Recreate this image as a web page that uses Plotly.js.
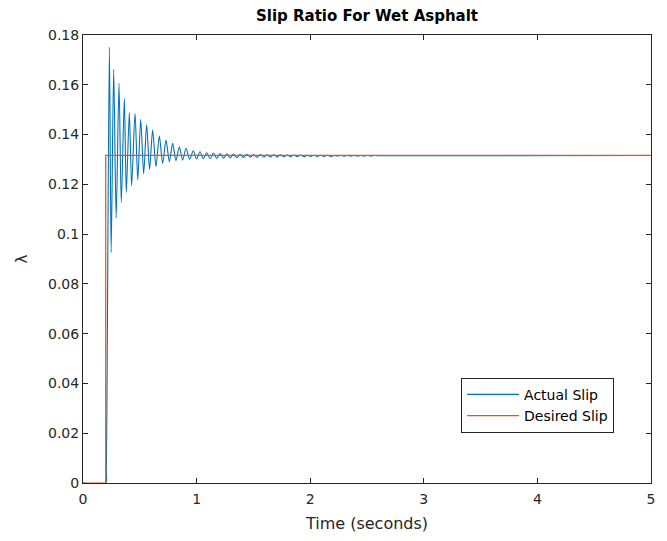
<!DOCTYPE html>
<html>
<head>
<meta charset="utf-8">
<script src="https://cdn.plot.ly/plotly-3.0.1.min.js"></script>
<style>html,body{margin:0;padding:0;background:#fff;}#chart{width:667px;height:541px;}</style>
</head>
<body>
<div id="chart"></div>
<script>
// Time (s) and slip values
const actualTime = [0, 0.2, 0.205, 0.232, 0.248, 0.270, 0.292, 0.317, 0.337, 0.364, 0.381, 0.408, 0.428, 0.458, 0.482, 0.508, 0.534, 0.560, 0.586, 0.613, 0.642, 0.672, 0.701, 0.731, 0.760, 0.789, 0.818, 0.848, 0.877, 0.907, 0.939, 0.971, 1.000, 1.030, 1.060, 1.089,
  1.119, 1.148, 1.178, 1.207, 1.237, 1.266, 1.296, 1.325, 1.355, 1.384, 1.414, 1.443, 1.473, 1.502, 1.532, 1.561, 1.591, 1.620, 1.650, 1.679, 1.709, 1.738, 1.768, 1.797, 1.827, 1.856, 1.886, 1.915, 1.945, 1.974,
  2.004, 2.033, 2.063, 2.092, 2.122, 2.151, 2.181, 2.210, 2.240, 2.269, 2.299, 2.328, 2.358, 2.387, 2.417, 2.446, 2.476, 2.505, 2.535, 2.564, 2.594, 5.0];
const actualSlip = [0, 0, 0.005, 0.1751, 0.0926, 0.1662, 0.1064, 0.1606, 0.1127, 0.1546, 0.1167, 0.1488, 0.1194, 0.1485, 0.1218, 0.1461, 0.1242, 0.1439, 0.1260, 0.1418, 0.1271, 0.1394, 0.1284, 0.1378, 0.1291, 0.1365, 0.1295, 0.1351, 0.1298, 0.1345, 0.1301, 0.1335, 0.1302, 0.1331, 0.1303, 0.1327,
  0.1303, 0.1326, 0.1304, 0.1324, 0.1305, 0.1323, 0.1306, 0.1322, 0.1307, 0.1321, 0.1308, 0.1321, 0.1309, 0.1320, 0.1309, 0.1320, 0.1310, 0.1319, 0.1310, 0.1319, 0.1310, 0.1319, 0.1311, 0.1318, 0.1311, 0.1318, 0.1311, 0.1318, 0.1311, 0.1317,
  0.1312, 0.1317, 0.1312, 0.1317, 0.1312, 0.1317, 0.1312, 0.1316, 0.1313, 0.1316, 0.1313, 0.1316, 0.1313, 0.1316, 0.1313, 0.1316, 0.1313, 0.1316, 0.1313, 0.1316, 0.1315, 0.1316];
const desiredTime = [0, 0.2, 0.2, 5.0];
const desiredSlip = [0, 0, 0.1316, 0.1316];

const xTickVals = [0, 1, 2, 3, 4, 5];
const xTickText = ['0', '1', '2', '3', '4', '5'];
const yTickVals = [0, 0.02, 0.04, 0.06, 0.08, 0.1, 0.12, 0.14, 0.16, 0.18];
const yTickText = ['0', '0.02', '0.04', '0.06', '0.08', '0.1', '0.12', '0.14', '0.16', '0.18'];

const FONT = 'DejaVu Sans, sans-serif';
const INK = '#262626';

const traces = [
  {x: actualTime, y: actualSlip, type: 'scatter', mode: 'lines', name: 'Actual Slip',
   line: {color: '#0072BD', width: 1.1, shape: 'spline', smoothing: 0.8}},
  {x: desiredTime, y: desiredSlip, type: 'scatter', mode: 'lines', name: 'Desired Slip',
   line: {color: '#E0561A', width: 1.2}}
];

const axisCommon = {
  showgrid: false, zeroline: false, showline: true, linecolor: INK, linewidth: 1,
  mirror: 'ticks', ticks: 'inside', ticklen: 5, tickcolor: INK, tickwidth: 1,
  tickfont: {family: FONT, size: 14, color: INK}
};

const layout = {
  width: 667, height: 541,
  margin: {l: 83, r: 16, t: 35, b: 58},
  paper_bgcolor: '#ffffff', plot_bgcolor: '#ffffff',
  font: {family: FONT, color: INK},
  title: {text: '<b>Slip Ratio For Wet Asphalt</b>', font: {family: FONT, size: 15, color: '#000'},
          x: 0.5, xref: 'paper', y: 0.970, yref: 'container', yanchor: 'middle'},
  xaxis: Object.assign({}, axisCommon, {range: [0, 5], tickmode: 'array', tickvals: xTickVals, ticktext: xTickText,
    ticklabelstandoff: 3,
    title: {text: 'Time (seconds)', font: {family: FONT, size: 16, color: INK}, standoff: 12}}),
  yaxis: Object.assign({}, axisCommon, {range: [0, 0.18], tickmode: 'array', tickvals: yTickVals, ticktext: yTickText,
    title: {text: 'λ', font: {family: FONT, size: 15, color: INK}, standoff: 16}}),
  showlegend: true,
  legend: {x: 0.935, xanchor: 'right', y: 0.112, yanchor: 'bottom', bgcolor: '#ffffff',
    bordercolor: INK, borderwidth: 1, font: {family: FONT, size: 14, color: '#000'},
    itemwidth: 52, tracegroupgap: 0}
};

Plotly.newPlot('chart', traces, layout, {displayModeBar: false, staticPlot: true});
</script>
</body>
</html>
